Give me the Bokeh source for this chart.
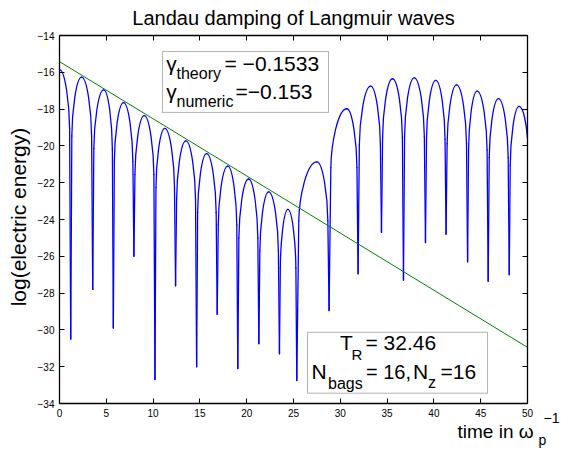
from bokeh.plotting import figure
from bokeh.models import Range1d, LinearAxis, FixedTicker, Label, BoxAnnotation, CustomLabelingPolicy
from bokeh.embed import file_html
from bokeh.resources import INLINE
import math

# ---------------- data ----------------
# blue curve: times / values of the sharp minima (dips)
dip_t = [1.2, 3.55, 5.75, 7.95, 10.2, 12.4, 14.65, 16.85, 19.05, 21.3, 23.5,
         25.35, 28.8, 31.9, 34.4, 36.75, 39.1, 41.3, 43.6, 45.8, 48.05]
dip_v = [-30.5, -27.8, -29.9, -26.0, -32.7, -27.6, -32.0, -29.15, -32.1, -30.75, -31.3,
         -32.75, -28.95, -26.95, -24.7, -27.3, -25.25, -24.8, -26.3, -27.35, -27.0]
# blue curve: times / values of the arch tops (first one is the start of the curve)
peak_t = [0.0, 2.36, 4.72, 6.84, 9.05, 11.25, 13.5, 15.72, 17.97, 20.2, 22.35, 24.4,
          27.5, 30.7, 33.24, 35.58, 37.9, 40.2, 42.42, 44.62, 46.9, 49.1]
peak_v = [-15.85, -16.26, -16.95, -17.65, -18.36, -19.05, -19.73, -20.42, -21.1, -21.8, -22.5, -23.45,
          -20.87, -17.98, -16.75, -16.35, -16.3, -16.44, -16.68, -17.02, -17.43, -17.85]
# blue curve: last visible point
end_t = [50.0]
end_v = [-19.6]

# green fit line
fit_t = [0.0, 50.0]
fit_v = [-15.42, -30.95]

x_ticks = [0, 5, 10, 15, 20, 25, 30, 35, 40, 45, 50]
x_tick_labels = ["0", "5", "10", "15", "20", "25", "30", "35", "40", "45", "50"]
y_ticks = [-34, -32, -30, -28, -26, -24, -22, -20, -18, -16, -14]
y_tick_labels = ["\u221234", "\u221232", "\u221230", "\u221228", "\u221226", "\u221224",
                 "\u221222", "\u221220", "\u221218", "\u221216", "\u221214"]

FONT = "Liberation Sans"
BLUE = "#0000ff"
GREEN = "#008000"

p = figure(width=560, height=450, output_backend="svg", toolbar_location=None,
           x_range=Range1d(0, 50), y_range=Range1d(-34, -14),
           min_border_left=59, min_border_right=33, min_border_top=35, min_border_bottom=47,
           background_fill_color="white", border_fill_color="white")
p.outline_line_color = None
p.xgrid.visible = False
p.ygrid.visible = False

def style_axis(ax, ticks, labels, show_labels):
    ax.ticker = FixedTicker(ticks=ticks)
    ax.major_label_overrides = {t: l for t, l in zip(ticks, labels)}
    ax.major_tick_in = 5
    ax.major_tick_out = 0
    ax.minor_tick_in = 0
    ax.minor_tick_out = 0
    ax.minor_tick_line_color = None
    ax.major_tick_line_color = "black"
    ax.major_tick_line_width = 1
    ax.axis_line_color = "black"
    ax.axis_line_width = 1.3
    ax.major_label_text_font = FONT
    ax.major_label_text_color = "black"
    if show_labels:
        ax.major_label_text_font_size = "10px"
        ax.major_label_standoff = 5
    else:
        ax.major_label_text_font_size = "1px"
        ax.major_label_standoff = 0
        ax.major_label_policy = CustomLabelingPolicy(code="return []")

style_axis(p.xaxis[0], x_ticks, x_tick_labels, True)
style_axis(p.yaxis[0], y_ticks, y_tick_labels, True)
top_ax = LinearAxis()
right_ax = LinearAxis()
style_axis(top_ax, x_ticks, x_tick_labels, False)
style_axis(right_ax, y_ticks, y_tick_labels, False)
p.add_layout(top_ax, "above")
p.add_layout(right_ax, "right")

# ---------------- blue curve: arches drawn as bezier domes + spikes ----------------
bx0, by0, bx1, by1, bcx0, bcy0, bcx1, bcy1 = [], [], [], [], [], [], [], []
sx0, sy0, sx1, sy1 = [], [], [], []

def half_arch(xp, pv, xd, dv):
    w = xd - xp
    shx, shy = xp + 0.9 * w, pv - 3.2
    bx0.append(xp); by0.append(pv)
    bcx0.append(xp + 0.5 * w); bcy0.append(pv)
    bcx1.append(xp + 0.88 * w); bcy1.append(pv - 1.9)
    bx1.append(shx); by1.append(shy)
    sx0.append(shx); sy0.append(shy); sx1.append(xd); sy1.append(dv)

for i in range(len(peak_t)):
    if i > 0:
        half_arch(peak_t[i], peak_v[i], dip_t[i - 1], dip_v[i - 1])
    if i < len(dip_t):
        half_arch(peak_t[i], peak_v[i], dip_t[i], dip_v[i])

# last, partial half arch down to the end of the record
w_end = end_t[0] - peak_t[-1]
bx0.append(peak_t[-1]); by0.append(peak_v[-1])
bcx0.append(peak_t[-1] + 0.5 * w_end); bcy0.append(peak_v[-1])
bcx1.append(end_t[0] - 0.12 * w_end); bcy1.append(peak_v[-1] - 0.55 * (peak_v[-1] - end_v[0]))
bx1.append(end_t[0]); by1.append(end_v[0])

p.bezier(x0=bx0, y0=by0, x1=bx1, y1=by1, cx0=bcx0, cy0=bcy0, cx1=bcx1, cy1=bcy1,
         line_color=BLUE, line_width=1.3, line_cap="round")
p.segment(x0=sx0, y0=sy0, x1=sx1, y1=sy1, line_color=BLUE, line_width=1.3, line_cap="round")

# green fitted line
p.line(fit_t, fit_v, line_color=GREEN, line_width=1)

# ---------------- text boxes ----------------
p.add_layout(BoxAnnotation(left=11.0, right=28.74, top=-14.87, bottom=-18.18,
                           fill_color="white", fill_alpha=1, line_color="black", line_width=1,
                           level="annotation"))
p.add_layout(BoxAnnotation(left=26.5, right=45.73, top=-30.13, bottom=-33.44,
                           fill_color="white", fill_alpha=1, line_color="black", line_width=1,
                           level="annotation"))

PX_PER_Y = 18.415   # screen pixels per y unit (368 px frame / 20 units)

def txt(x, y, s, size, align="left", angle=0.0, place="center", lift=True):
    # small upward correction so the text baseline lands where the reference has it
    yy = y + (0.32 * size / PX_PER_Y if lift else 0.0)
    lab = Label(x=x, y=yy, text=s, text_font=FONT, text_font_size=f"{size}px",
                text_color="black", text_align=align, text_baseline="alphabetic",
                angle=angle)
    if place == "center":
        p.add_layout(lab)
    else:
        p.add_layout(lab, place)

# box 1
txt(11.40, -15.863, "\u03b3", 21)
txt(12.50, -16.351, "theory", 16)
txt(17.63, -15.863, "= \u22120.1533", 21)
txt(11.40, -17.383, "\u03b3", 21)
txt(12.50, -17.872, "numeric", 16)
txt(18.80, -17.383, "=\u22120.153", 21)

# box 2
txt(29.97, -31.051, "T", 21)
txt(31.20, -31.594, "R", 15)
txt(32.69, -31.051, "= 32.46", 21)
txt(26.92, -32.626, "N", 21)
txt(28.69, -33.196, "bags", 16)
txt(32.74, -32.626, "= 16,", 20)
txt(37.78, -32.626, "N", 21)
txt(39.38, -33.142, "z", 16)
txt(40.70, -32.626, "=16", 21)

# title and axis labels (placed in the side panels so they are not clipped,
# at most one text per panel row so the frame keeps its size)
txt(25.0, -13.403, "Landau damping of Langmuir waves", 20, align="center", place="above")
txt(-4.35, -23.867, "log(electric energy)", 21, align="center", angle=math.pi / 2, place="left", lift=False)
txt(42.52, -35.53, "time in \u03c9", 19, place="below", lift=False)
txt(51.18, -35.966, "p", 14, place="right", lift=False)
txt(51.71, -34.771, "\u22121", 14, place="right", lift=False)

open("out.html", "w").write(file_html(p, INLINE))
